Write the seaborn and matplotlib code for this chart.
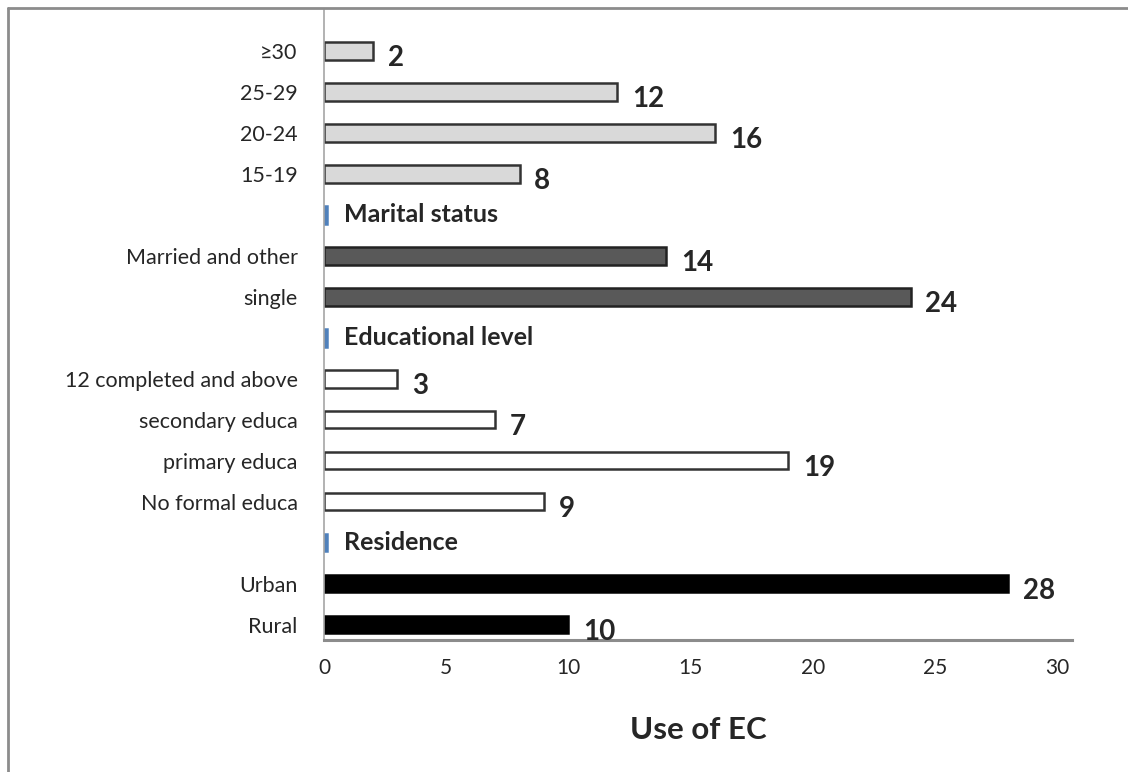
import matplotlib
matplotlib.use("Agg")
import matplotlib.pyplot as plt
from matplotlib.lines import Line2D
import seaborn as sns
import pandas as pd

# Rows from top to bottom; section headers carry a tiny stub value
categories = ["≥30", "25-29", "20-24", "15-19",
              "Marital status", "Married and other", "single",
              "Educational level", "12 completed and above", "secondary educa",
              "primary educa", "No formal educa",
              "Residence", "Urban", "Rural"]
values = [2, 12, 16, 8,
          0.12, 14, 24,
          0.12, 3, 7, 19, 9,
          0.12, 28, 10]
groups = ["age", "age", "age", "age",
          "header", "marital", "marital",
          "header", "edu", "edu", "edu", "edu",
          "header", "res", "res"]
headers = ["Marital status", "Educational level", "Residence"]
x_ticks = [0, 5, 10, 15, 20, 25, 30]

fill = {"age": "#d9d9d9", "marital": "#595959", "edu": "#ffffff",
        "res": "#000000", "header": "#4f81bd"}
edge = {"age": "#333333", "marital": "#222222", "edu": "#333333",
        "res": "#000000", "header": "#4f81bd"}

df = pd.DataFrame({"category": categories, "value": values, "group": groups})

sns.set_theme(style="white")
plt.rcParams["font.family"] = ["Lato", "DejaVu Sans"]

fig = plt.figure(figsize=(11.28, 7.72), dpi=100)
ax = fig.add_axes([324 / 1128, 1 - 640 / 772, (1072 - 324) / 1128, (640 - 10) / 772])

sns.barplot(data=df, y="category", x="value", hue="group", palette=fill,
            order=categories, dodge=False, legend=False, width=0.42,
            orient="h", ax=ax)

# colour edges per bar according to its group
for patch in ax.patches:
    y_mid = patch.get_y() + patch.get_height() / 2
    idx = int(round(y_mid))
    if 0 <= idx < len(groups) and patch.get_width() > 0:
        patch.set_edgecolor(edge[groups[idx]])
        patch.set_linewidth(1.8)

ax.set_xlim(0, 30.6)
ax.set_ylim(14.37, -1.0)
ax.set_xticks(x_ticks)
ax.set_xticklabels([str(t) for t in x_ticks], fontsize=15)
ax.set_yticks(range(len(categories)))
ax.set_yticklabels(["" if c in headers else c for c in categories], fontsize=15.5)
ax.tick_params(axis="y", length=0, pad=19)
ax.tick_params(axis="x", length=0, pad=13)
ax.set_ylabel("")
ax.set_xlabel("Use of EC", fontsize=22.5, fontweight="bold", labelpad=27)

for side in ["top", "right"]:
    ax.spines[side].set_visible(False)
ax.spines["left"].set_color("#a6a6a6")
ax.spines["left"].set_linewidth(1.2)
ax.spines["bottom"].set_color("#8c8c8c")
ax.spines["bottom"].set_linewidth(2.2)

# value labels and section headers
for i, (c, v, g) in enumerate(zip(categories, values, groups)):
    if g == "header":
        ax.text(0.8, i, c, fontsize=18, fontweight="bold", va="center", ha="left")
    else:
        ax.text(v + 0.6, i + 0.18, str(v), fontsize=20, fontweight="bold",
                va="center", ha="left")

# chart frame
fig.add_artist(Line2D([7.5 / 1128, 7.5 / 1128], [0, 1 - 7.5 / 772],
                      transform=fig.transFigure, color="#8c8c8c", lw=2))
fig.add_artist(Line2D([7.5 / 1128, 1], [1 - 7.5 / 772, 1 - 7.5 / 772],
                      transform=fig.transFigure, color="#8c8c8c", lw=2))

fig.savefig("out.png", dpi=100)
